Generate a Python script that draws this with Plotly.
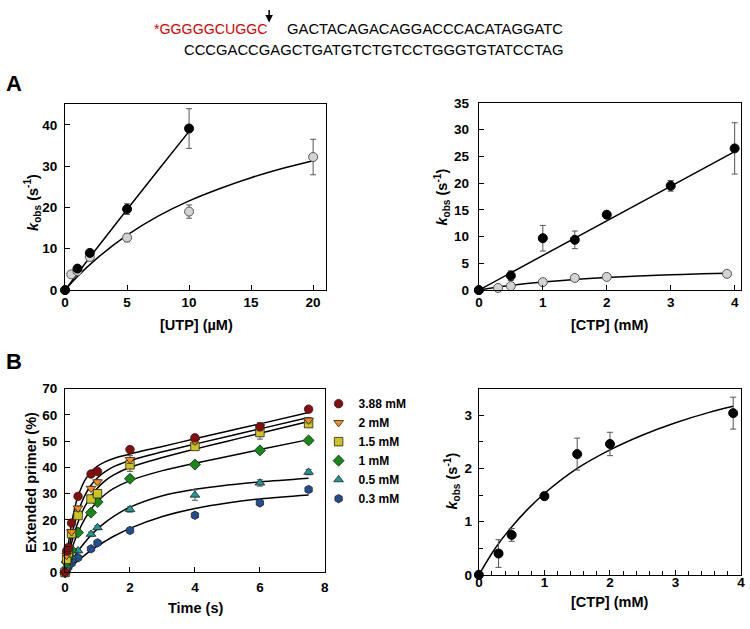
import plotly.graph_objects as go

# ---------------- Data ----------------
# Panel A left: kobs vs [UTP] (uM)
utp_black_x = [0, 1, 2, 5, 10]
utp_black_y = [0, 5.2, 9.0, 19.6, 39.1]
utp_black_err = [0, 0.4, 0.5, 1.3, 4.8]
utp_grey_x = [0, 0.5, 1, 2, 5, 10, 20]
utp_grey_y = [0, 3.8, 4.6, 8.0, 12.7, 19.0, 32.2]
utp_grey_err = [0, 0.3, 0.4, 0.5, 1.0, 1.6, 4.3]
utp_fit_black_x = [0, 2.5, 5, 7.5, 10]
utp_fit_black_y = [0, 9.9, 19.5, 29.0, 38.4]
utp_fit_grey_x = [0, 1, 2.5, 5, 7.5, 10, 12.5, 15, 17.5, 20]
utp_fit_grey_y = [0, 3.3, 7.5, 13.3, 17.9, 21.6, 24.6, 27.2, 29.4, 31.3]

# Panel A right: kobs vs [CTP] (mM)
ctpA_black_x = [0, 0.5, 1, 1.5, 2, 3, 4]
ctpA_black_y = [0, 2.7, 9.7, 9.4, 14.1, 19.5, 26.5]
ctpA_black_err = [0, 0.9, 2.4, 1.65, 0.3, 1.0, 4.8]
ctpA_fit_black_x = [0, 4]
ctpA_fit_black_y = [0, 25.9]

# Panel B right (also grey series of panel A right)
ctp_x = [0, 0.3, 0.5, 1, 1.5, 2, 3.88]
ctp_y = [0, 0.40, 0.75, 1.48, 2.27, 2.46, 3.04]
ctp_err = [0, 0.26, 0.12, 0.07, 0.30, 0.22, 0.30]
ctp_fit_x = [0, 0.25, 0.5, 0.75, 1, 1.5, 2, 2.5, 3, 3.5, 3.88]
ctp_fit_y = [0, 0.50, 0.90, 1.24, 1.53, 2.00, 2.35, 2.63, 2.86, 3.05, 3.17]

# Panel B left: extended primer (%) vs time (s)
time_s = [0, 0.05, 0.1, 0.2, 0.4, 0.8, 1, 2, 4, 6, 7.5]
series_labels = ["3.88 mM", "2 mM", "1.5 mM", "1 mM", "0.5 mM", "0.3 mM"]
series_colors = ["#8B0A0A", "#FF8C1A", "#CCC41A", "#138A13", "#1A9A9A", "#1E4F96"]
series_symbols = ["circle", "triangle-down", "square", "diamond", "triangle-up", "hexagon"]
ext_388 = [0, 8.2, 9.5, 18.8, 29.0, 37.5, 38.5, 46.8, 51.3, 55.5, 62.2]
ext_2 = [0, 6.5, 8.0, 15.5, 24.5, 32.0, 34.5, 43.0, 50.0, 55.5, 58.0]
ext_15 = [0, 5.0, 7.5, 14.8, 21.7, 28.0, 30.0, 41.0, 48.0, 53.3, 56.7]
ext_1 = [0, 4.0, 6.0, 8.5, 15.2, 22.8, 26.8, 35.7, 41.1, 46.5, 50.3]
ext_05 = [0, 2.5, 4.0, 6.0, 8.3, 14.6, 17.1, 24.0, 29.5, 34.1, 38.2]
ext_03 = [0, 1.0, 2.0, 3.5, 5.6, 9.0, 11.3, 16.0, 21.8, 26.5, 31.6]
err_388 = [0, 0.5, 0.5, 0.5, 0.8, 0.8, 0.8, 1.0, 1.0, 1.0, 1.0]
err_2 = [0, 0.5, 0.5, 0.5, 0.8, 0.8, 0.8, 1.5, 1.0, 1.5, 1.0]
err_15 = [0, 0.5, 0.5, 0.5, 0.8, 0.8, 0.8, 2.5, 1.0, 2.5, 1.0]
err_1 = [0, 0.5, 0.5, 0.5, 0.8, 0.8, 0.8, 1.0, 1.0, 1.0, 1.0]
err_05 = [0, 0.5, 0.5, 0.5, 0.8, 0.8, 0.8, 1.0, 2.0, 1.2, 1.0]
err_03 = [0, 0.5, 0.5, 0.5, 0.8, 0.8, 0.8, 1.0, 1.0, 1.0, 1.0]
fit_t = [0, 0.1, 0.2, 0.3, 0.4, 0.6, 0.8, 1.0, 1.25, 1.5, 2, 3, 4, 5, 6, 7.5]
fit_388 = [0, 10.7, 18.6, 24.6, 29.0, 34.9, 38.3, 40.5, 42.2, 43.4, 45.1, 48.0, 50.9, 53.8, 56.6, 60.9]
fit_2 = [0, 7.7, 13.9, 18.9, 23.0, 29.1, 33.2, 36.1, 38.5, 40.3, 42.65, 45.95, 48.9, 51.8, 54.7, 59.05]
fit_15 = [0, 6.1, 11.2, 15.5, 19.1, 24.9, 29.1, 32.2, 35.1, 37.15, 40.05, 43.8, 46.97, 50.0, 53.0, 57.5]
fit_1 = [0, 4.65, 8.67, 12.2, 15.2, 20.2, 24.1, 27.0, 29.9, 32.0, 35.0, 38.8, 41.6, 44.2, 46.8, 50.6]
fit_05 = [0, 2.25, 4.34, 6.29, 8.1, 11.3, 14.2, 16.6, 19.2, 21.4, 24.9, 29.25, 31.7, 33.3, 34.5, 35.9]
fit_03 = [0, 1.2, 2.36, 3.46, 4.53, 6.53, 8.38, 10.1, 12.0, 13.8, 16.8, 21.3, 24.4, 26.5, 28.0, 29.5]

ext_series = [ext_388, ext_2, ext_15, ext_1, ext_05, ext_03]
err_series = [err_388, err_2, err_15, err_1, err_05, err_03]
fit_series = [fit_388, fit_2, fit_15, fit_1, fit_05, fit_03]

# Sequence text
seq_red = "*GGGGGCUGGC"
seq_top = "GACTACAGACAGGACCCACATAGGATC"
seq_bottom = "CCCGACCGAGCTGATGTCTGTCCTGGGTGTATCCTAG"

# ---------------- Figure ----------------
W, H = 750, 629
FONT = "Liberation Sans, Arial, sans-serif"
fig = go.Figure()

def err(arr):
    return dict(type="data", array=arr, visible=True, color="#555555", thickness=1, width=3)

grey_marker = dict(color="#D3D3D3", size=9, line=dict(color="#555555", width=1))
black_marker = dict(color="black", size=9, line=dict(color="black", width=1))
fit_line = dict(color="black", width=1.5)

# Panel A left
fig.add_trace(go.Scatter(x=utp_fit_black_x, y=utp_fit_black_y, mode="lines", line=fit_line,
                         line_shape="spline", xaxis="x", yaxis="y", showlegend=False))
fig.add_trace(go.Scatter(x=utp_fit_grey_x, y=utp_fit_grey_y, mode="lines", line=fit_line,
                         line_shape="spline", xaxis="x", yaxis="y", showlegend=False))
fig.add_trace(go.Scatter(x=utp_grey_x, y=utp_grey_y, mode="markers", marker=grey_marker,
                         error_y=err(utp_grey_err), xaxis="x", yaxis="y", showlegend=False, cliponaxis=False))
fig.add_trace(go.Scatter(x=utp_black_x, y=utp_black_y, mode="markers", marker=black_marker,
                         error_y=err(utp_black_err), xaxis="x", yaxis="y", showlegend=False, cliponaxis=False))

# Panel A right
fig.add_trace(go.Scatter(x=ctpA_fit_black_x, y=ctpA_fit_black_y, mode="lines", line=fit_line,
                         xaxis="x2", yaxis="y2", showlegend=False))
fig.add_trace(go.Scatter(x=ctp_fit_x, y=ctp_fit_y, mode="lines", line=fit_line, line_shape="spline",
                         xaxis="x2", yaxis="y2", showlegend=False))
fig.add_trace(go.Scatter(x=ctp_x, y=ctp_y, mode="markers", marker=grey_marker, error_y=err(ctp_err),
                         xaxis="x2", yaxis="y2", showlegend=False, cliponaxis=False))
fig.add_trace(go.Scatter(x=ctpA_black_x, y=ctpA_black_y, mode="markers", marker=black_marker,
                         error_y=err(ctpA_black_err), xaxis="x2", yaxis="y2", showlegend=False, cliponaxis=False))

# Panel B left
for fy in fit_series:
    fig.add_trace(go.Scatter(x=fit_t, y=fy, mode="lines", line=fit_line, line_shape="spline",
                             xaxis="x3", yaxis="y3", showlegend=False))
for lab, col, sym, ys, es in reversed(list(zip(series_labels, series_colors, series_symbols, ext_series, err_series))):
    fig.add_trace(go.Scatter(x=time_s, y=ys, mode="markers", name=lab,
                             marker=dict(color=col, symbol=sym, size=8.5, line=dict(color="#222222", width=0.8)),
                             error_y=err(es), xaxis="x3", yaxis="y3", cliponaxis=False, showlegend=True))

# Panel B right
fig.add_trace(go.Scatter(x=ctp_fit_x, y=ctp_fit_y, mode="lines", line=fit_line, line_shape="spline",
                         xaxis="x4", yaxis="y4", showlegend=False))
fig.add_trace(go.Scatter(x=ctp_x, y=ctp_y, mode="markers", marker=black_marker, error_y=err(ctp_err),
                         xaxis="x4", yaxis="y4", showlegend=False, cliponaxis=False))

tickfont = dict(family=FONT, size=13.5, color="black", weight="bold")

def ax(domain, rng, dtick, anchor, minor=None, standoff=0):
    d = dict(domain=domain, range=rng, dtick=dtick, tick0=0, anchor=anchor, showline=True, mirror=True,
             linecolor="black", linewidth=1.2, ticks="inside", ticklen=5, tickcolor="black", tickwidth=1,
             showgrid=False, zeroline=False, tickfont=tickfont, ticklabelstandoff=standoff)
    if minor:
        d["minor"] = minor
    return d

def px_x(p):
    return p / W

def px_y(p):
    return 1 - p / H

xA1 = [px_x(61.7), px_x(325)]
xA2 = [px_x(480), px_x(745)]
xB1 = [px_x(61.7), px_x(324.3)]
xB2 = [px_x(480), px_x(745)]
yA1 = [px_y(290), px_y(99.5)]
yA2 = [px_y(290), px_y(98.3)]
yB1 = [px_y(579.3), px_y(391)]
yB2 = [px_y(581.7), px_y(391)]

minor_x = dict(dtick=0.2, ticks="inside", ticklen=4, tickcolor="black", showgrid=False)
minor_y = dict(dtick=0.5, ticks="inside", ticklen=4, tickcolor="black", showgrid=False)

fig.update_layout(
    width=W, height=H, margin=dict(l=0, r=0, t=0, b=0),
    paper_bgcolor="white", plot_bgcolor="white",
    xaxis=ax(xA1, [0, 21], 5, "y"), yaxis=ax(yA1, [0, 45], 10, "x", standoff=4),
    xaxis2=ax(xA2, [0, 4.1], 1, "y2"), yaxis2=ax(yA2, [0, 35], 5, "x2", standoff=6),
    xaxis3=ax(xB1, [0, 8], 2, "y3", standoff=2), yaxis3=ax(yB1, [0, 70], 10, "x3", standoff=4),
    xaxis4=ax(xB2, [0, 4], 1, "y4", minor_x, standoff=-5), yaxis4=ax(yB2, [0, 3.5], 1, "x4", minor_y, standoff=3),
    legend=dict(x=px_x(318), y=px_y(455), xanchor="left", yanchor="middle",
                font=dict(family=FONT, size=12, color="black", weight="bold"),
                bgcolor="rgba(0,0,0,0)", traceorder="reversed", tracegroupgap=0),
    font=dict(family=FONT, color="black"),
)

def ann(text, x, y, size=14.5, angle=0, color="black", xanchor="center", bold=True):
    fig.add_annotation(text=text, x=px_x(x), y=px_y(y), xref="paper", yref="paper", showarrow=False,
                       xanchor=xanchor, yanchor="middle", textangle=angle, borderpad=0,
                       font=dict(family=FONT, size=size, color=color, weight="bold" if bold else "normal"))

kobs = "<i>k</i><sub>obs</sub> (s<sup>-1</sup>)"
ann("[UTP] (\u00b5M)", 195, 326)
ann("[CTP] (mM)", 612, 326)
ann("Time (s)", 194, 616)
ann("[CTP] (mM)", 612, 610)
ann(kobs, 29, 200, angle=-90)
ann(kobs, 443, 195, angle=-90)
ann("Extended primer (%)", 28, 487, angle=-90)
ann(kobs, 453, 486, angle=-90)
ann("A", 1, 78, size=22, xanchor="left")
ann("B", 1, 363, size=22, xanchor="left")

# sequence
ann(seq_red, 151, 23, size=14.2, color="#D40000", xanchor="left", bold=False)
ann(seq_top, 285, 23, size=14.8, xanchor="left", bold=False)
ann(seq_bottom, 181, 44, size=14.8, xanchor="left", bold=False)
fig.add_annotation(x=px_x(268), y=px_y(16), xref="paper", yref="paper", ax=0, ay=-14,
                   showarrow=True, arrowhead=2, arrowsize=1, arrowwidth=1.5, arrowcolor="black", text="")

fig.write_html("out.html", config={"displayModeBar": False},
               post_script="document.body.style.margin='0px';")
